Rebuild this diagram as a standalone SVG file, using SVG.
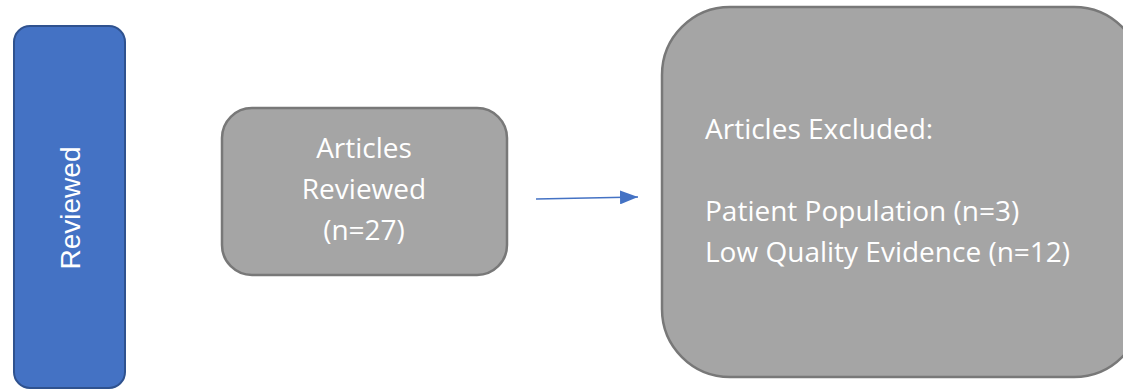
<svg xmlns="http://www.w3.org/2000/svg" width="1123" height="391" viewBox="0 0 1123 391">
<style>
.blue{fill:#4472C4;stroke:#2F528F;stroke-width:2}
.gray{fill:#A5A5A5;stroke:#787878;stroke-width:2.5}
.t{font-family:"Open Sans","Liberation Sans",sans-serif;font-size:28px;fill:#FFFFFF}
.v{font-family:"Liberation Sans",Arial,sans-serif;font-size:28px;fill:#FFFFFF}
.conn{stroke:#4472C4;stroke-width:1.5;fill:none}
</style>
<defs>
<marker id="ah" markerWidth="18" markerHeight="14" refX="18" refY="7" orient="auto" markerUnits="userSpaceOnUse">
<path d="M0,0 L18,7 L0,14 Z" fill="#4472C4"/>
</marker>
</defs>
<rect width="1123" height="391" fill="#FFFFFF"/>
<g id="node-reviewed-label">
<rect class="blue" x="14" y="26" width="111" height="362" rx="16"/>
<text class="v" transform="translate(80,208) rotate(-90)" text-anchor="middle">Reviewed</text>
</g>
<g id="node-articles-reviewed">
<rect class="gray" x="222" y="108" width="285" height="167" rx="30"/>
<text class="t" x="364" y="158" text-anchor="middle">Articles</text>
<text class="t" x="364" y="199" text-anchor="middle">Reviewed</text>
<text class="t" x="364" y="240" text-anchor="middle">(n=27)</text>
</g>
<g id="node-articles-excluded">
<rect class="gray" x="662" y="7" width="480" height="370" rx="68"/>
<text class="t" x="705" y="139">Articles Excluded:</text>
<text class="t" x="705" y="221">Patient Population (n=3)</text>
<text class="t" x="705" y="262">Low Quality Evidence (n=12)</text>
</g>
<g id="connectors">
<line class="conn" x1="536" y1="199" x2="638" y2="197" marker-end="url(#ah)"/>
</g>
</svg>
